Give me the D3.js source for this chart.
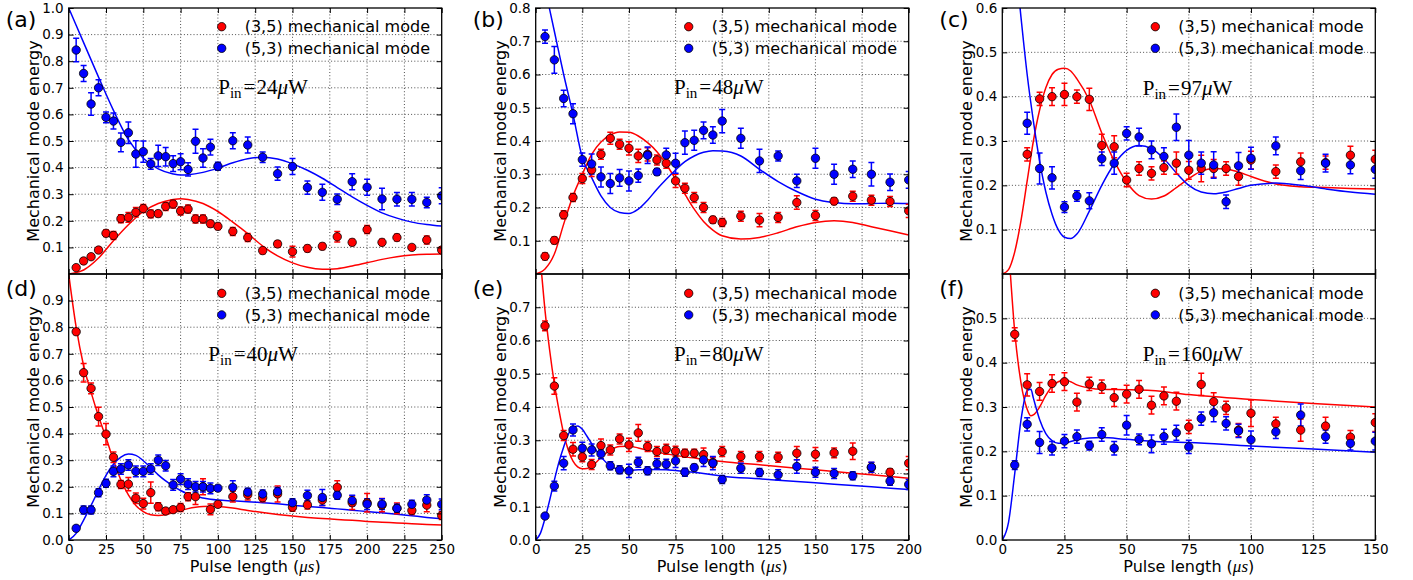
<!DOCTYPE html>
<html>
<head>
<meta charset="utf-8">
<script src="https://cdn.jsdelivr.net/npm/d3@7"></script>
<style>
  body { margin: 0; background: #fff; }
  svg { display: block; }
</style>
</head>
<body>
<svg id="fig" width="1413" height="580"></svg>
<script>
// ---- measured mode energies, error bars and fitted model curves ----

// (a) P_in = 24 uW
const pulseA = [5,10,15,20,25,30,35,40,45,50,55,60,65,70,75,80,85,90,95,100,110,120,130,140,150,160,170,180,190,200,210,220,230,240,250];
const redA = [0.024,0.049,0.065,0.09,0.153,0.145,0.208,0.213,0.232,0.246,0.226,0.227,0.254,0.263,0.237,0.244,0.207,0.207,0.189,0.179,0.16,0.137,0.088,0.113,0.084,0.096,0.104,0.14,0.119,0.167,0.119,0.137,0.1,0.128,0.09];
const redErrA = [0.008,0.01,0.01,0.01,0.012,0.015,0.015,0.018,0.018,0.015,0.015,0.012,0.015,0.015,0.015,0.015,0.015,0.015,0.012,0.012,0.015,0.015,0.012,0.012,0.02,0.012,0.012,0.02,0.012,0.015,0.012,0.012,0.01,0.015,0.012];
const blueA = [0.842,0.754,0.639,0.70,0.589,0.575,0.495,0.531,0.451,0.46,0.414,0.444,0.441,0.415,0.422,0.393,0.499,0.436,0.477,0.405,0.501,0.485,0.439,0.377,0.404,0.325,0.307,0.281,0.347,0.326,0.282,0.281,0.281,0.269,0.294];
const blueErrA = [0.044,0.03,0.042,0.03,0.02,0.03,0.035,0.04,0.05,0.04,0.02,0.04,0.035,0.03,0.03,0.025,0.045,0.035,0.03,0.015,0.03,0.03,0.02,0.025,0.03,0.025,0.03,0.02,0.03,0.03,0.04,0.025,0.025,0.02,0.03];
const fitXA = [0,10,20,30,40,50,60,70,75,80,90,100,110,120,130,140,150,160,170,180,190,200,210,220,230,240,250];
const fitRedA = [0,0.015,0.06,0.125,0.185,0.235,0.265,0.28,0.283,0.28,0.265,0.235,0.195,0.152,0.105,0.068,0.042,0.025,0.018,0.02,0.03,0.042,0.055,0.065,0.071,0.074,0.075];
const fitBlueA = [1.0,0.87,0.74,0.615,0.505,0.435,0.395,0.376,0.372,0.373,0.382,0.398,0.418,0.433,0.439,0.432,0.414,0.39,0.36,0.325,0.29,0.258,0.23,0.21,0.195,0.186,0.18];

// (b) P_in = 48 uW
const pulseB = [5,10,15,20,25,30,35,40,45,50,55,60,65,70,75,80,85,90,95,100,110,120,130,140,150,160,170,180,190,200];
const redB = [0.053,0.101,0.178,0.23,0.287,0.313,0.36,0.408,0.39,0.378,0.355,0.36,0.343,0.333,0.28,0.258,0.23,0.2,0.163,0.155,0.174,0.162,0.17,0.215,0.176,0.219,0.234,0.222,0.218,0.19];
const redErrB = [0.01,0.01,0.012,0.012,0.015,0.02,0.015,0.018,0.015,0.02,0.02,0.02,0.015,0.015,0.02,0.015,0.015,0.015,0.01,0.012,0.015,0.02,0.015,0.02,0.015,0.01,0.015,0.015,0.015,0.02];
const blueB = [0.714,0.644,0.528,0.482,0.344,0.331,0.292,0.272,0.289,0.28,0.296,0.357,0.307,0.358,0.333,0.395,0.402,0.432,0.418,0.46,0.408,0.34,0.355,0.28,0.348,0.3,0.315,0.3,0.276,0.283];
const blueErrB = [0.02,0.04,0.025,0.03,0.02,0.03,0.03,0.03,0.025,0.03,0.02,0.025,0.01,0.02,0.03,0.035,0.03,0.025,0.025,0.035,0.03,0.035,0.015,0.02,0.03,0.03,0.025,0.035,0.025,0.025];
const fitXB = [0,5,10,15,20,25,30,35,40,45,50,55,60,65,70,75,80,85,90,95,100,110,120,130,140,150,160,170,180,190,200];
const fitRedB = [0,0.015,0.06,0.15,0.235,0.3,0.36,0.397,0.418,0.427,0.426,0.415,0.395,0.368,0.33,0.285,0.24,0.195,0.158,0.132,0.115,0.105,0.11,0.124,0.142,0.155,0.16,0.155,0.142,0.13,0.117];
const fitBlueB = [0.99,0.86,0.73,0.6,0.48,0.35,0.29,0.235,0.2,0.185,0.182,0.195,0.222,0.255,0.285,0.313,0.338,0.355,0.366,0.371,0.37,0.355,0.315,0.278,0.248,0.225,0.215,0.211,0.212,0.213,0.212];

// (c) P_in = 97 uW
const pulseC = [10,15,20,25,30,35,40,45,50,55,60,65,70,75,80,85,90,95,100,110,120,130,140,150];
const redC = [0.27,0.395,0.40,0.405,0.40,0.394,0.29,0.287,0.212,0.238,0.227,0.24,0.25,0.234,0.238,0.238,0.238,0.22,0.257,0.231,0.253,0.251,0.268,0.259];
const redErrC = [0.015,0.015,0.02,0.025,0.015,0.025,0.025,0.025,0.015,0.015,0.015,0.015,0.025,0.02,0.03,0.02,0.015,0.02,0.02,0.015,0.02,0.015,0.02,0.02];
const blueC = [0.34,0.238,0.217,0.151,0.176,0.165,0.26,0.25,0.317,0.309,0.28,0.265,0.331,0.268,0.25,0.246,0.163,0.244,0.261,0.289,0.233,0.25,0.246,0.236];
const blueErrC = [0.025,0.035,0.025,0.012,0.012,0.018,0.015,0.025,0.015,0.02,0.02,0.02,0.03,0.033,0.025,0.03,0.015,0.03,0.025,0.02,0.02,0.02,0.02,0.02];
const fitXC = [0,2.5,5,7.5,10,12.5,15,17.5,20,22.5,25,27.5,30,35,40,45,50,55,60,65,70,75,80,85,90,95,100,110,120,130,140,150];
const fitRedC = [0,0.01,0.05,0.12,0.21,0.3,0.37,0.42,0.45,0.462,0.464,0.458,0.44,0.392,0.318,0.255,0.207,0.177,0.169,0.176,0.195,0.215,0.232,0.238,0.237,0.23,0.22,0.203,0.197,0.195,0.193,0.192];
const fitBlueC = [1.0,0.88,0.72,0.58,0.45,0.345,0.255,0.185,0.135,0.1,0.083,0.08,0.09,0.142,0.2,0.248,0.279,0.29,0.283,0.26,0.228,0.2,0.185,0.181,0.185,0.193,0.2,0.205,0.2,0.192,0.185,0.18];

// (d) P_in = 40 uW
const pulseD = [5,10,15,20,25,30,35,40,45,50,55,60,65,70,75,80,85,90,95,100,110,120,130,140,150,160,170,180,190,200,210,220,230,240,250];
const redD = [0.783,0.629,0.57,0.464,0.398,0.311,0.209,0.21,0.157,0.137,0.178,0.125,0.109,0.114,0.122,0.163,0.163,0.2,0.115,0.134,0.163,0.17,0.159,0.173,0.123,0.132,0.15,0.198,0.14,0.14,0.131,0.119,0.111,0.131,0.092];
const redErrD = [0.01,0.035,0.02,0.035,0.04,0.02,0.015,0.025,0.02,0.02,0.04,0.015,0.01,0.01,0.015,0.015,0.03,0.03,0.02,0.01,0.02,0.02,0.015,0.03,0.015,0.015,0.02,0.025,0.025,0.035,0.025,0.02,0.015,0.025,0.015];
const blueD = [0.044,0.113,0.113,0.178,0.213,0.258,0.267,0.282,0.258,0.258,0.267,0.3,0.279,0.207,0.229,0.21,0.2,0.2,0.194,0.195,0.198,0.18,0.173,0.182,0.14,0.167,0.16,0.168,0.148,0.135,0.135,0.119,0.134,0.15,0.134];
const blueErrD = [0.008,0.015,0.015,0.015,0.015,0.02,0.02,0.02,0.02,0.02,0.02,0.02,0.02,0.02,0.02,0.02,0.02,0.02,0.02,0.01,0.025,0.015,0.015,0.015,0.015,0.02,0.03,0.015,0.02,0.02,0.02,0.015,0.015,0.02,0.02];
const fitXD = [0,5,10,15,20,25,30,35,40,45,50,55,60,65,70,75,80,85,90,95,100,110,120,130,140,150,160,170,180,190,200,210,220,230,240,250];
const fitRedD = [1.0,0.8,0.655,0.555,0.465,0.385,0.3,0.225,0.17,0.13,0.107,0.095,0.092,0.095,0.103,0.111,0.118,0.123,0.126,0.127,0.126,0.12,0.111,0.103,0.096,0.09,0.085,0.081,0.077,0.074,0.07,0.067,0.064,0.061,0.058,0.056];
const fitBlueD = [0,0.025,0.075,0.13,0.188,0.243,0.285,0.312,0.323,0.318,0.298,0.272,0.245,0.222,0.203,0.186,0.173,0.164,0.158,0.153,0.15,0.147,0.144,0.14,0.136,0.131,0.126,0.122,0.117,0.112,0.107,0.102,0.097,0.091,0.085,0.08];

// (e) P_in = 80 uW
const pulseE = [5,10,15,20,25,30,35,40,45,50,55,60,65,70,75,80,85,90,95,100,110,120,130,140,150,160,170,180,190,200];
const redE = [0.644,0.463,0.314,0.273,0.25,0.227,0.284,0.271,0.304,0.286,0.322,0.281,0.266,0.273,0.267,0.261,0.261,0.257,0.233,0.266,0.251,0.251,0.249,0.261,0.258,0.262,0.267,0.218,0.204,0.231];
const redErrE = [0.015,0.025,0.015,0.02,0.015,0.015,0.02,0.015,0.015,0.02,0.025,0.015,0.015,0.015,0.015,0.012,0.012,0.02,0.015,0.015,0.015,0.015,0.015,0.02,0.02,0.015,0.025,0.015,0.01,0.02];
const blueE = [0.072,0.162,0.231,0.331,0.276,0.271,0.259,0.223,0.211,0.208,0.234,0.208,0.229,0.228,0.238,0.204,0.218,0.241,0.231,0.182,0.216,0.203,0.196,0.221,0.204,0.2,0.193,0.219,0.177,0.167];
const blueErrE = [0.005,0.015,0.02,0.018,0.018,0.018,0.015,0.012,0.012,0.02,0.015,0.012,0.015,0.015,0.02,0.012,0.01,0.02,0.02,0.012,0.015,0.012,0.015,0.02,0.015,0.015,0.012,0.015,0.012,0.015];
const fitXE = [0,2.5,5,7.5,10,12.5,15,17.5,20,22.5,25,27.5,30,35,40,45,50,55,60,70,80,90,100,120,140,160,180,200];
const fitRedE = [0.95,0.84,0.69,0.57,0.47,0.39,0.32,0.27,0.237,0.22,0.214,0.215,0.222,0.248,0.27,0.281,0.282,0.277,0.27,0.259,0.25,0.243,0.236,0.226,0.216,0.206,0.196,0.186];
const fitBlueE = [0,0.02,0.065,0.12,0.18,0.235,0.28,0.318,0.338,0.343,0.333,0.312,0.29,0.25,0.223,0.212,0.21,0.211,0.212,0.211,0.206,0.2,0.192,0.184,0.176,0.168,0.16,0.152];

// (f) P_in = 160 uW
const pulseF = [5,10,15,20,25,30,35,40,45,50,55,60,65,70,75,80,85,90,95,100,110,120,130,140,150];
const redF = [0.464,0.35,0.335,0.353,0.357,0.311,0.352,0.346,0.321,0.329,0.34,0.304,0.325,0.313,0.255,0.351,0.312,0.298,0.248,0.286,0.262,0.248,0.257,0.232,0.265];
const redErrF = [0.015,0.025,0.02,0.02,0.02,0.02,0.015,0.015,0.02,0.02,0.02,0.02,0.02,0.02,0.015,0.025,0.02,0.015,0.015,0.03,0.015,0.025,0.02,0.015,0.02];
const blueF = [0.169,0.261,0.22,0.207,0.223,0.233,0.213,0.238,0.207,0.259,0.227,0.217,0.233,0.242,0.21,0.274,0.287,0.263,0.246,0.226,0.244,0.282,0.233,0.218,0.223];
const blueErrF = [0.01,0.015,0.025,0.015,0.015,0.015,0.01,0.015,0.015,0.022,0.012,0.02,0.017,0.017,0.015,0.015,0.02,0.015,0.015,0.02,0.015,0.025,0.015,0.015,0.02];
const fitXF = [0,2.5,5,7.5,10,11.5,12.5,15,17.5,20,22.5,25,27.5,30,35,40,50,60,75,100,125,150];
const fitRedF = [0.85,0.66,0.47,0.355,0.295,0.28,0.282,0.3,0.326,0.346,0.357,0.361,0.357,0.35,0.343,0.34,0.339,0.337,0.328,0.317,0.308,0.3];
const fitBlueF = [0,0.04,0.15,0.27,0.337,0.34,0.32,0.272,0.24,0.224,0.218,0.218,0.222,0.226,0.23,0.231,0.227,0.223,0.22,0.212,0.205,0.198];

// ---- tick values and text ----
const xTicks250 = [0,25,50,75,100,125,150,175,200,225,250];
const xTicks200 = [0,25,50,75,100,125,150,175,200];
const xTicks150 = [0,25,50,75,100,125,150];
const yTicksA = [0.1,0.2,0.3,0.4,0.5,0.6,0.7,0.8,0.9,1.0];
const yTicksB = [0.1,0.2,0.3,0.4,0.5,0.6,0.7,0.8];
const yTicksC = [0.1,0.2,0.3,0.4,0.5,0.6];
const yTicksD = [0.0,0.1,0.2,0.3,0.4,0.5,0.6,0.7,0.8,0.9];
const yTicksE = [0.0,0.1,0.2,0.3,0.4,0.5,0.6,0.7];
const yTicksF = [0.0,0.1,0.2,0.3,0.4,0.5];
const legendLabels = ["(3,5) mechanical mode", "(5,3) mechanical mode"];
const powers = ["24", "48", "97", "40", "80", "160"];
const panelTags = ["(a)", "(b)", "(c)", "(d)", "(e)", "(f)"];
const yLabel = "Mechanical mode energy";

// ---- figure layout ----
const W = 373, H = 266;
const colLeft = [68.7, 535.7, 1002.3];
const rowTop = [8, 274];
const powerPos = [[149.5, 86], [138.3, 86], [140.4, 87], [139.6, 86.5], [138.3, 86.5], [140.4, 87]];
const RED = "#ff0000", BLUE = "#0000ff";
const SANS = "'DejaVu Sans', Verdana, sans-serif";
const SERIF = "'Liberation Serif', 'DejaVu Serif', serif";

const panels = [
  { col: 0, row: 0, xMax: 250, yMax: 1.0, pulse: pulseA, red: redA, redErr: redErrA, blue: blueA, blueErr: blueErrA, fitX: fitXA, fitRed: fitRedA, fitBlue: fitBlueA, xTicks: xTicks250, yTicks: yTicksA },
  { col: 1, row: 0, xMax: 200, yMax: 0.8, pulse: pulseB, red: redB, redErr: redErrB, blue: blueB, blueErr: blueErrB, fitX: fitXB, fitRed: fitRedB, fitBlue: fitBlueB, xTicks: xTicks200, yTicks: yTicksB },
  { col: 2, row: 0, xMax: 150, yMax: 0.6, pulse: pulseC, red: redC, redErr: redErrC, blue: blueC, blueErr: blueErrC, fitX: fitXC, fitRed: fitRedC, fitBlue: fitBlueC, xTicks: xTicks150, yTicks: yTicksC },
  { col: 0, row: 1, xMax: 250, yMax: 1.0, pulse: pulseD, red: redD, redErr: redErrD, blue: blueD, blueErr: blueErrD, fitX: fitXD, fitRed: fitRedD, fitBlue: fitBlueD, xTicks: xTicks250, yTicks: yTicksD },
  { col: 1, row: 1, xMax: 200, yMax: 0.8, pulse: pulseE, red: redE, redErr: redErrE, blue: blueE, blueErr: blueErrE, fitX: fitXE, fitRed: fitRedE, fitBlue: fitBlueE, xTicks: xTicks200, yTicks: yTicksE },
  { col: 2, row: 1, xMax: 150, yMax: 0.6, pulse: pulseF, red: redF, redErr: redErrF, blue: blueF, blueErr: blueErrF, fitX: fitXF, fitRed: fitRedF, fitBlue: fitBlueF, xTicks: xTicks150, yTicks: yTicksF }
];

const svg = d3.select("#fig");
const defs = svg.append("defs");

panels.forEach((p, i) => {
  const left = colLeft[p.col], top = rowTop[p.row];
  const x = d3.scaleLinear().domain([0, p.xMax]).range([0, W]);
  const y = d3.scaleLinear().domain([0, p.yMax]).range([H, 0]);
  const g = svg.append("g").attr("transform", `translate(${left},${top})`);

  const clipId = "clip" + i;
  defs.append("clipPath").attr("id", clipId)
    .append("rect").attr("x", 0).attr("y", 0).attr("width", W).attr("height", H);

  // dotted grid
  const grid = g.append("g").attr("stroke", "#222").attr("stroke-width", 0.8)
    .attr("stroke-dasharray", "1,2.2");
  grid.selectAll("line.gx").data(p.xTicks.filter(v => v > 0 && v < p.xMax)).join("line")
    .attr("x1", d => x(d)).attr("x2", d => x(d)).attr("y1", 0).attr("y2", H);
  grid.selectAll("line.gy").data(y.ticks(Math.round(p.yMax * 10)).filter(v => v > 1e-9 && v < p.yMax - 1e-9)).join("line")
    .attr("y1", d => y(d)).attr("y2", d => y(d)).attr("x1", 0).attr("x2", W);

  const plot = g.append("g").attr("clip-path", `url(#${clipId})`);

  // fitted model curves
  const line = d3.line().x(d => x(d[0])).y(d => y(d[1])).curve(d3.curveMonotoneX);
  plot.append("path").datum(d3.zip(p.fitX, p.fitRed)).attr("d", line)
    .attr("fill", "none").attr("stroke", RED).attr("stroke-width", 1.5);
  plot.append("path").datum(d3.zip(p.fitX, p.fitBlue)).attr("d", line)
    .attr("fill", "none").attr("stroke", BLUE).attr("stroke-width", 1.5);

  // measured points with error bars
  const series = [
    { vals: p.red, errs: p.redErr, color: RED },
    { vals: p.blue, errs: p.blueErr, color: BLUE }
  ];
  series.forEach(s => {
    const pts = p.pulse.map((t, k) => ({ t, v: s.vals[k], e: s.errs[k] }));
    const eb = plot.append("g").attr("stroke", s.color).attr("stroke-width", 1.5);
    eb.selectAll("line.bar").data(pts).join("line")
      .attr("x1", d => x(d.t)).attr("x2", d => x(d.t))
      .attr("y1", d => y(d.v - d.e)).attr("y2", d => y(d.v + d.e));
    eb.selectAll("line.capLo").data(pts).join("line").attr("class", "capLo")
      .attr("x1", d => x(d.t) - 3).attr("x2", d => x(d.t) + 3)
      .attr("y1", d => y(d.v - d.e)).attr("y2", d => y(d.v - d.e));
    eb.selectAll("line.capHi").data(pts).join("line").attr("class", "capHi")
      .attr("x1", d => x(d.t) - 3).attr("x2", d => x(d.t) + 3)
      .attr("y1", d => y(d.v + d.e)).attr("y2", d => y(d.v + d.e));
  });
  series.forEach(s => {
    const pts = p.pulse.map((t, k) => ({ t, v: s.vals[k] }));
    plot.append("g").selectAll("circle").data(pts).join("circle")
      .attr("cx", d => x(d.t)).attr("cy", d => y(d.v)).attr("r", 4.2)
      .attr("fill", s.color).attr("stroke", "#000").attr("stroke-width", 0.8);
  });

  // axes with inward ticks on all four sides
  const styleAxis = sel => {
    sel.select(".domain").remove();
    sel.selectAll(".tick line").attr("stroke", "#000").attr("stroke-width", 1);
    sel.selectAll(".tick text").attr("font-family", SANS).attr("font-size", "13.5px").attr("fill", "#000");
  };
  g.append("g").call(d3.axisLeft(y).tickValues(p.yTicks).tickSize(-5).tickPadding(5)
    .tickFormat(d3.format(".1f"))).call(styleAxis);
  g.append("g").attr("transform", `translate(${W},0)`)
    .call(d3.axisRight(y).tickValues(p.yTicks).tickSize(-5).tickFormat("")).call(styleAxis);
  g.append("g").attr("transform", `translate(0,${H})`)
    .call(d3.axisBottom(x).tickValues(p.xTicks).tickSize(-5).tickPadding(4)
      .tickFormat(p.row === 1 ? d3.format("d") : "")).call(styleAxis);
  g.append("g").call(d3.axisTop(x).tickValues(p.xTicks).tickSize(-5).tickFormat("")).call(styleAxis);

  // frame
  g.append("rect").attr("width", W).attr("height", H)
    .attr("fill", "none").attr("stroke", "#000").attr("stroke-width", 1.3);

  // legend (no frame)
  const lg = g.append("g");
  [RED, BLUE].forEach((c, k) => {
    const ly = (p.row === 0 ? 18.7 : 19.3) + k * 21.6;
    lg.append("circle").attr("cx", W - 220).attr("cy", ly).attr("r", 4.2)
      .attr("fill", c).attr("stroke", "#000").attr("stroke-width", 0.8);
    lg.append("text").attr("x", W - 197).attr("y", ly).attr("dy", "0.35em")
      .attr("font-family", SANS).attr("font-size", "16px").attr("fill", "#000")
      .text(legendLabels[k]);
  });

  // input power annotation
  const [px, py] = powerPos[i];
  const pt = g.append("text").attr("x", px).attr("y", py)
    .attr("font-family", SERIF).attr("font-size", "21px").attr("fill", "#000");
  pt.append("tspan").text("P");
  pt.append("tspan").attr("dy", 4).attr("font-size", "15px").text("in");
  pt.append("tspan").attr("dy", -4).attr("dx", 2).text("=");
  pt.append("tspan").attr("dx", 1).text(powers[i]);
  pt.append("tspan").attr("font-style", "italic").text("\u03bc");
  pt.append("tspan").text("W");

  // y axis label
  g.append("text").attr("transform", `translate(${-30},${H / 2}) rotate(-90)`)
    .attr("text-anchor", "middle").attr("font-family", SANS).attr("font-size", "16px")
    .attr("fill", "#000").text(yLabel);

  // x axis label on the lower row
  if (p.row === 1) {
    const xl = g.append("text").attr("x", W / 2).attr("y", H + 32)
      .attr("text-anchor", "middle").attr("font-family", SANS).attr("font-size", "16px")
      .attr("fill", "#000");
    xl.append("tspan").text("Pulse length (");
    xl.append("tspan").attr("font-family", SERIF).attr("font-style", "italic").attr("font-size", "17px").text("\u03bcs");
    xl.append("tspan").text(")");
  }

  // panel tag
  svg.append("text").attr("x", left - 63).attr("y", p.row === 0 ? 27 : 296)
    .attr("font-family", SANS).attr("font-size", "22px").attr("fill", "#000")
    .text(panelTags[i]);
});
</script>
</body>
</html>
